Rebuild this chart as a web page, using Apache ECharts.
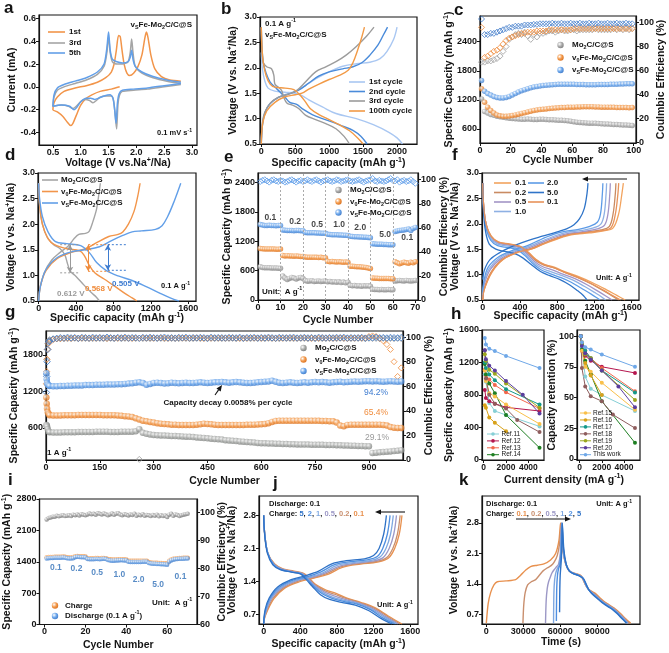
<!DOCTYPE html>
<html lang="en">
<head>
<meta charset="UTF-8">
<title>Electrochemical performance</title>
<script src="https://cdn.jsdelivr.net/npm/echarts@6.0.0/dist/echarts.min.js"></script>
<style>
  html, body { margin: 0; padding: 0; background: #fff; }
  #chart { width: 669px; height: 653px; }
</style>
</head>
<body>
<div id="chart"></div>
<script>
// ===== data =====
// a: CV curves [V, mA]
var cv1st = [[1.70,0.00],[1.55,-0.02],[1.35,-0.04],[1.2,-0.07],[1.1,-0.10],[1.0,-0.16],[0.92,-0.25],[0.86,-0.32],[0.82,-0.34],[0.76,-0.31],[0.68,-0.26],[0.58,-0.22],[0.5,-0.20],
  [0.52,-0.14],[0.58,-0.09],[0.7,-0.04],[0.9,-0.01],[1.1,0.01],[1.3,0.04],[1.45,0.08],[1.55,0.13],[1.6,0.2],[1.64,0.32],[1.68,0.45],[1.71,0.44],[1.74,0.33],[1.78,0.2],[1.83,0.12],[1.88,0.1],[1.95,0.12],[2.03,0.18],[2.1,0.28],[2.15,0.42],[2.18,0.48],[2.21,0.43],[2.26,0.28],[2.33,0.16],[2.45,0.09],[2.6,0.06],[2.8,0.05]];
var cv3rd = [[2.8,0.02],[2.5,0.0],[2.2,-0.02],[1.95,-0.03],[1.75,-0.04],[1.7,-0.07],[1.67,-0.15],[1.645,-0.37],[1.62,-0.25],[1.59,-0.12],[1.55,-0.08],[1.45,-0.08],[1.35,-0.09],[1.28,-0.12],[1.22,-0.14],[1.16,-0.12],[1.08,-0.11],[1.0,-0.13],[0.92,-0.17],[0.86,-0.19],[0.78,-0.17],[0.65,-0.16],[0.5,-0.17],
  [0.52,-0.09],[0.58,-0.03],[0.7,0.0],[0.9,0.03],[1.1,0.06],[1.3,0.11],[1.42,0.18],[1.47,0.3],[1.5,0.44],[1.53,0.3],[1.57,0.22],[1.65,0.2],[1.75,0.2],[1.85,0.22],[1.89,0.3],[1.915,0.42],[1.94,0.3],[1.98,0.18],[2.1,0.12],[2.3,0.08],[2.55,0.05],[2.8,0.03]];
var cv5th = [[2.8,0.03],[2.5,0.01],[2.2,-0.01],[1.95,-0.02],[1.75,-0.03],[1.69,-0.06],[1.66,-0.14],[1.635,-0.32],[1.61,-0.2],[1.58,-0.1],[1.53,-0.07],[1.42,-0.08],[1.32,-0.1],[1.25,-0.11],[1.18,-0.1],[1.1,-0.1],[1.0,-0.13],[0.93,-0.18],[0.88,-0.2],[0.8,-0.17],[0.65,-0.16],[0.5,-0.17],
  [0.52,-0.07],[0.58,-0.01],[0.7,0.02],[0.9,0.05],[1.1,0.08],[1.3,0.13],[1.42,0.2],[1.47,0.34],[1.5,0.48],[1.53,0.32],[1.57,0.24],[1.65,0.22],[1.75,0.21],[1.85,0.22],[1.89,0.26],[1.915,0.32],[1.94,0.24],[1.98,0.18],[2.1,0.13],[2.3,0.09],[2.55,0.06],[2.8,0.04]];

// b: GCD at 0.1 A/g [mAh/g, V]
var b1Dis = [[0,2.3],[15,2.0],[50,1.75],[100,1.6],[200,1.54],[350,1.52],[500,1.5],[600,1.45],[700,1.37],[900,1.23],[1100,1.1],[1400,1.0],[1650,0.88],[1880,0.73],[2000,0.62],[2080,0.5]];
var b1Chg = [[0,0.5],[10,0.8],[40,1.05],[100,1.25],[200,1.38],[350,1.47],[500,1.54],[650,1.65],[800,1.78],[1000,1.92],[1200,2.03],[1400,2.08],[1600,2.11],[1750,2.18],[1850,2.32],[1950,2.56],[2000,2.8]];
var b2Dis = [[0,2.8],[10,2.4],[30,2.1],[70,1.9],[130,1.72],[200,1.62],[280,1.52],[350,1.42],[420,1.32],[520,1.28],[620,1.18],[750,1.08],[900,1.0],[1050,0.93],[1200,0.85],[1350,0.77],[1470,0.65],[1560,0.5]];
var b2Chg = [[0,0.5],[15,0.85],[50,1.1],[120,1.28],[250,1.42],[400,1.48],[550,1.56],[700,1.7],[850,1.84],[1000,1.92],[1200,1.98],[1350,2.02],[1480,2.1],[1600,2.25],[1720,2.45],[1800,2.65],[1860,2.8]];
var b3Dis = [[0,2.8],[10,2.35],[30,2.1],[80,2.02],[150,1.98],[185,1.85],[200,1.68],[250,1.62],[300,1.55],[330,1.42],[380,1.3],[450,1.27],[550,1.2],[650,1.07],[800,0.98],[950,0.9],[1100,0.8],[1220,0.65],[1300,0.5]];
var b3Chg = [[0,0.5],[15,0.9],[50,1.12],[130,1.3],[250,1.42],[400,1.48],[520,1.55],[650,1.72],[800,1.92],[950,2.02],[1100,2.12],[1250,2.25],[1400,2.42],[1550,2.62],[1660,2.8]];
var b100Dis = [[0,2.8],[10,2.4],[30,2.1],[70,1.85],[130,1.68],[200,1.62],[350,1.6],[480,1.57],[560,1.48],[640,1.35],[720,1.2],[850,1.08],[1000,0.98],[1150,0.88],[1300,0.76],[1420,0.62],[1500,0.5]];
var b100Chg = [[0,0.5],[20,0.9],[80,1.15],[200,1.32],[350,1.43],[500,1.47],[600,1.5],[700,1.58],[850,1.68],[1000,1.77],[1150,1.85],[1280,1.95],[1350,2.1],[1420,2.35],[1480,2.6],[1520,2.8]];

// c: cycling at 0.1 A/g, cycles 1,3,5,...,99
var cCapMo = [1220,960,930,900,880,860,850,840,830,820, 815,810,805,800,800,805,800,795,795,800, 800,795,790,790,785,780,780,775,770,760, 750,740,735,730,725,720,720,715,710,705, 700,700,695,690,690,685,680,680,675,670];
var cCapV0 = [1430,1150,1050,980,930,890,870,860,860,865, 875,890,905,920,935,950,965,980,990,1000, 1005,1010,1020,1025,1030,1035,1040,1040,1045,1050, 1050,1055,1055,1060,1060,1060,1060,1055,1055,1050, 1050,1050,1045,1045,1040,1040,1040,1040,1035,1040];
var cCapVs = [1600,1380,1330,1300,1270,1250,1240,1240,1250,1270, 1300,1330,1360,1390,1410,1430,1450,1465,1475,1485, 1495,1500,1505,1510,1515,1520,1520,1520,1520,1520, 1520,1515,1515,1515,1510,1510,1510,1510,1515,1515, 1515,1515,1520,1520,1520,1525,1525,1530,1530,1530];
var cCeMo = [67,67,68,68,69,70,72,76,80,86, 88,90,91,90,92,89,86,90,88,91, 91,92,93,93,92,93,94,93,93,94, 94,93,94,94,94,94,94,95,94,94, 94,94,94,95,94,95,94,95,94,95];
var cCeV0 = [96,71,72,74,76,77,79,82,85,87, 88,89,90,91,91,92,92,92,93,93, 93,93,94,94,94,94,94,94,94,94, 95,95,95,95,95,95,95,95,95,95, 95,95,95,95,95,95,95,95,95,95];
var cCeVs = [103,90,90,91,91,92,93,94,95,96, 96,97,97,97,98,98,98,98.5,98.5,99, 99,99,99,99.5,99,99,99.5,99,99,99.5, 99,99,99.5,99,99,99.5,99,99,99.5,99, 99,99.5,99,99,99.5,99,99,99.5,99,99];

// d: GCD comparison [mAh/g, V]
var dMoDis = [[0,2.8],[10,2.35],[40,2.0],[90,1.75],[160,1.6],[230,1.52],[280,1.4],[310,1.22],[340,1.08],[400,0.98],[480,0.82],[560,0.67],[620,0.57],[650,0.5]];
var dMoChg = [[0,0.5],[15,0.75],[60,1.05],[140,1.3],[230,1.45],[320,1.58],[380,1.72],[430,1.8],[500,1.82],[540,1.86],[580,2.05],[620,2.3],[645,2.6],[660,2.8]];
var dV0Dis = [[0,2.8],[10,2.4],[40,2.0],[100,1.72],[170,1.6],[300,1.52],[440,1.48],[490,1.38],[540,1.2],[600,1.05],[700,0.93],[820,0.78],[930,0.64],[1000,0.56],[1050,0.5]];
var dV0Chg = [[0,0.5],[20,0.8],[80,1.1],[200,1.33],[350,1.45],[500,1.52],[620,1.64],[750,1.76],[850,1.8],[900,1.85],[960,2.0],[1020,2.25],[1060,2.55],[1085,2.8]];
var dVsDis = [[0,2.8],[10,2.5],[40,2.15],[100,1.85],[180,1.66],[300,1.62],[450,1.58],[540,1.45],[620,1.25],[720,1.1],[850,0.99],[1000,0.9],[1150,0.78],[1300,0.65],[1420,0.55],[1500,0.5]];
var dVsChg = [[0,0.5],[20,0.8],[80,1.12],[200,1.35],[350,1.46],[500,1.5],[650,1.56],[780,1.68],[900,1.78],[1000,1.85],[1100,1.87],[1250,1.9],[1320,1.97],[1380,2.15],[1450,2.45],[1520,2.8]];
var dGapX = [335, 530, 740];
var dGapTop = [1.6, 1.6, 1.6];
var dGapBot = [1.05, 1.08, 1.1];
var dDotFrom = [230, 530, 740];
var dDotTo = [430, 760, 940];

// e: rate capability, cycles 1..70
var eCapMo = [680,665,660,660,658,655,655,652,650,648, 490,450,420,440,460,450,430,450,460,440, 400,385,390,395,380,385,390,380,385,390, 370,380,365,375,360,370,355,365,350,360, 300,290,295,285,290,280,290,285,290,280, 220,215,215,210,215,210,210,215,210,210, 390,395,400,395,390,400,395,390,395,400];
var eCapV0 = [1050,1045,1040,1040,1040,1040,1040,1035,1035,1040, 910,900,905,900,900,895,900,895,890,890, 880,875,870,875,870,870,865,870,860,860, 790,780,785,780,775,780,775,770,775,770, 690,690,685,680,680,675,670,665,655,645, 450,445,445,440,440,440,440,440,435,435, 780,760,740,755,770,760,750,770,760,780];
var eCapVs = [1540,1530,1520,1520,1525,1520,1520,1515,1520,1520, 1430,1425,1420,1420,1420,1415,1420,1420,1415,1415, 1380,1375,1370,1370,1370,1365,1365,1360,1360,1360, 1340,1335,1330,1330,1330,1325,1325,1320,1320,1315, 1300,1295,1290,1290,1285,1285,1280,1280,1275,1270, 1150,1145,1140,1140,1140,1135,1135,1130,1130,1130, 1400,1410,1420,1425,1430,1440,1450,1420,1460,1480];
var eCeVs = [98.5,99.5,100,99,98,99.5,100,99,98.5,99.5, 99,98,98.5,99.5,100,99,98,99,99.5,98.5, 99,100,99,98.5,99.5,100,99,98,99,99.5, 100,99,98.5,99,100,99.5,98.5,99,99.5,100, 99,98.5,99,99.5,100,99,98,99,99.5,100, 101,99,98.5,99.5,99,98.5,99,100,101,99.5, 99,100,98,99,99.5,98.5,99,100,98.5,97];
var eRateLab = ['0.1','0.2','0.5','1.0','2.0','5.0','0.1'];
var eRateX = [5.5, 16.5, 26.3, 36.1, 45.5, 56.6, 66.4];
var eRateY = [1680, 1600, 1540, 1540, 1480, 1330, 1270];
var eSteps = [10, 20, 30, 40, 50, 60];

// f: GCD at different rates [mAh/g, V]
var fRates = ['0.1','0.2','0.5','1.0','2.0','5.0','0.1'];
var fC01 = [[0,0.5],[15,0.7],[100,1.05],[220,1.3],[380,1.44],[520,1.5],[650,1.6],[800,1.7],[950,1.78],[1150,1.82],[1300,1.86],[1400,1.92],[1460,2.2],[1495,2.6],[1510,2.8]];
var fC02 = [[0,0.5],[15,0.72],[90,1.05],[210,1.3],[370,1.45],[510,1.51],[640,1.61],[790,1.72],[940,1.8],[1120,1.84],[1270,1.88],[1360,1.95],[1400,2.2],[1424,2.6],[1430,2.8]];
var fC05 = [[0,0.55],[15,0.8],[80,1.1],[200,1.32],[360,1.46],[500,1.53],[630,1.63],[780,1.74],[920,1.81],[1090,1.85],[1230,1.9],[1310,1.98],[1345,2.2],[1365,2.6],[1370,2.8]];
var fC1 = [[0,0.6],[15,0.85],[70,1.12],[190,1.34],[350,1.47],[490,1.55],[620,1.65],[770,1.76],[900,1.83],[1060,1.87],[1190,1.92],[1270,2.0],[1305,2.2],[1325,2.6],[1330,2.8]];
var fC2 = [[0,0.65],[15,0.9],[60,1.15],[180,1.36],[340,1.49],[480,1.57],[610,1.68],[760,1.79],[880,1.85],[1030,1.89],[1150,1.95],[1230,2.03],[1265,2.2],[1285,2.6],[1290,2.8]];
var fC5 = [[0,0.9],[20,1.1],[80,1.3],[200,1.45],[350,1.58],[500,1.68],[650,1.76],[800,1.84],[900,1.9],[980,1.98],[1040,2.1],[1090,2.3],[1120,2.6],[1130,2.8]];
var fC01b = [[0,0.5],[15,0.7],[95,1.05],[215,1.3],[375,1.44],[515,1.5],[645,1.6],[795,1.71],[945,1.79],[1130,1.83],[1290,1.87],[1380,1.93],[1425,2.2],[1452,2.6],[1460,2.8]];
var fD01 = [[0,2.8],[8,2.4],[35,2.0],[90,1.76],[170,1.64],[290,1.6],[410,1.55],[490,1.44],[570,1.3],[660,1.2],[760,1.15],[880,1.06],[1030,0.96],[1180,0.84],[1330,0.7],[1440,0.59],[1530,0.5]];
var fD02 = [[0,2.8],[8,2.4],[35,2.0],[90,1.75],[170,1.63],[290,1.59],[400,1.54],[480,1.43],[560,1.29],[650,1.19],[750,1.14],[870,1.05],[1010,0.95],[1150,0.83],[1290,0.69],[1390,0.58],[1460,0.5]];
var fD05 = [[0,2.8],[8,2.4],[35,2.0],[85,1.74],[165,1.62],[280,1.58],[390,1.53],[470,1.42],[550,1.27],[640,1.16],[740,1.1],[860,1.01],[990,0.92],[1120,0.8],[1250,0.66],[1330,0.57],[1390,0.5]];
var fD1 = [[0,2.8],[8,2.35],[35,1.95],[85,1.72],[160,1.6],[270,1.56],[380,1.51],[460,1.4],[540,1.25],[630,1.13],[730,1.06],[850,0.98],[970,0.89],[1090,0.77],[1200,0.65],[1270,0.57],[1320,0.5]];
var fD2 = [[0,2.8],[8,2.3],[35,1.92],[85,1.68],[160,1.57],[270,1.53],[370,1.49],[450,1.38],[530,1.23],[620,1.1],[720,1.02],[840,0.94],[950,0.85],[1060,0.73],[1160,0.62],[1220,0.55],[1260,0.5]];
var fD5 = [[0,2.8],[8,2.25],[30,1.85],[70,1.6],[140,1.5],[250,1.45],[350,1.41],[430,1.33],[520,1.2],[620,1.06],[720,0.98],[830,0.9],[930,0.8],[1020,0.68],[1080,0.59],[1120,0.5]];
var fD01b = [[0,2.8],[8,2.4],[35,2.0],[90,1.75],[170,1.64],[290,1.6],[405,1.55],[485,1.44],[565,1.3],[655,1.2],[755,1.14],[875,1.05],[1015,0.95],[1160,0.83],[1300,0.69],[1400,0.58],[1480,0.5]];

// g: long cycling at 1 A/g; cycles 1,2,3,5,8 then every 10th
var gCapMo = [650,640,620,580,540, 530,525,525,525,530,530,530,530,535,535, 535,535,535,540,540,540,540,535,535,535, 540,540,540,540,545,580,520,505,495,485, 480,478,475,472,470,468,465,462,458,455, 450,445,440,435,430,425,420,415,410,400, 395,390,385,380,375,370,365,360,355,350, 348,346,344,342,340,338,336,334,332,330, 329,328,327,326,325,324,323,322,321,320, 318,316,314,312,310,308,306,304,302,300, 190,195,200,205,210,215,220,225,235,240];
var gCapV0 = [1100,1000,920,860,830, 810,805,805,805,810,810,810,810,815,815, 815,815,815,815,815,810,810,810,810,805, 800,795,790,780,760,740,720,710,700,690, 680,670,665,660,655,655,650,650,650,650, 650,655,660,670,665,660,655,650,650,650, 650,650,650,650,650,652,655,655,658,660, 665,680,700,715,720,720,720,720,720,720, 720,720,720,720,718,718,715,715,712,710, 690,640,630,650,655,655,655,655,655,655, 655,655,655,650,640,615,605,600,600,600];
var gCapVs = [1500,1400,1340,1310,1300, 1290,1285,1285,1290,1290,1295,1295,1300,1300,1300, 1305,1305,1305,1310,1310,1310,1315,1315,1315,1320, 1320,1325,1330,1335,1345,1350,1340,1310,1325,1340, 1345,1340,1330,1335,1345,1340,1335,1340,1345,1340, 1340,1345,1350,1345,1340,1345,1350,1350,1355,1350, 1345,1350,1355,1350,1345,1340,1340,1345,1350,1355, 1360,1365,1375,1360,1345,1340,1345,1350,1345,1340, 1345,1350,1345,1350,1355,1350,1355,1350,1345,1350, 1355,1360,1350,1355,1360,1365,1360,1365,1370,1370, 1365,1370,1365,1360,1365,1370,1365,1360,1365,1360];
var gCeMo = [70,82,90,95,97, 98,98.5,98.8,98.6,98.9,98.7,98.8,99,98.7,98.9, 98.8,99,98.7,98.9,98.8,99,98.7,98.9,98.8,99, 98.7,98.9,98.8,99,98.8,0.5,98.8,98.9,98.7,99, 98.8,98.9,98.7,99,98.8,98.9,98.7,99,98.8,98.9, 98.7,99,98.8,98.9,98.7,99,98.8,98.9,98.7,99, 98.8,98.9,98.7,99,98.8,98.9,98.7,99,98.8,98.9, 98.7,99,98.8,98.9,98.7,99,98.8,98.9,98.7,99, 98.8,98.9,98.7,99,98.8,98.9,98.7,99,98.8,98.9, 98.7,99,98.8,98.9,98.7,99,98.8,98.9,98.7,99, 98.8,98.9,98.7,99,98.8,98.9,98.7,99,98.8,98.9];
var gCeV0 = [62,72,82,90,95, 97,98,98.5,98.8,99,99.2,99,99.3,99.1,99.2, 99.4,99,99.3,99.1,99.4,99.2,99,99.3,99.2,99.1, 99.3,99.4,99.2,99,99.3,99.1,99.4,99.2,99.3,99.1, 99.3,99.4,99.2,99,99.3,99.1,99.4,99.2,99.3,99.1, 99.3,99.4,99.2,99,99.3,99.1,99.4,99.2,99.3,99.1, 99.3,99.4,99.2,99,99.3,99.1,99.4,99.2,99.3,99.1, 99.3,99.4,99.2,99,99.3,99.1,99.4,99.2,99.3,99.1, 99.3,99.4,99.2,99,99.3,99.1,99.4,99.2,99.3,99.1, 99.3,99.4,99.2,99,99.3,99.1,99.4,99.2,99.3,100.5, 101,100.5,99,97,94,90,80,68,75,85];
var gCeVs = [55,68,80,90,96, 97,98.5,99,99.5,99.2,99.8,99.4,99.6,99.1,99.7, 99.5,99.2,99.8,99.4,99.6,99.3,99.9,99.5,99.2,99.7, 99.4,99.8,99.3,99.6,99.5,99.1,99.7,99.4,99.8,99.5, 99.3,99.6,99.9,99.4,99.5,99.2,99.7,99.5,99.8,99.3, 99.6,99.4,99.7,99.5,99.2,99.8,99.4,99.6,99.5,99.3, 99.7,99.5,99.4,99.8,99.2,99.6,99.5,99.7,99.3,99.6, 99.4,99.8,99.5,99.2,99.7,99.5,99.4,99.6,99.8,99.3, 99.5,99.7,99.4,99.6,99.2,99.8,99.5,99.3,99.6,99.4, 99.7,99.5,99.8,99.3,99.6,99.4,99.5,99.7,99.2,99.6, 99.5,99.8,99.4,99.6,99.3,99.7,99.5,99.4,99.6,99.5];

// h: comparison with literature [current density mA/g, value]
var hRefs = ['Ref.11','Ref.12','Ref.13','Ref.14','Ref.15','Ref.16','Ref.17','Ref.18','Ref.19','Ref.20','This work'];
var hCap = [
  [[100,1050],[200,960],[500,700],[1000,600],[2000,550],[5000,410]],
  [[100,860],[200,760],[500,720],[1000,690],[2000,645],[5000,600]],
  [[100,1110],[200,1040],[500,990],[1000,920],[2000,830],[5000,630]],
  [[100,1180],[200,1050],[500,940],[1000,820],[2000,550],[5000,145]],
  [[100,1100],[200,970],[500,820],[1000,780],[2000,680],[5000,440]],
  [[100,670],[200,640],[500,520],[1000,455],[2000,350]],
  [[100,1200],[200,1130],[500,1050],[1000,980],[2000,870],[5000,680]],
  [[100,1350],[200,1000],[500,800],[1000,690],[2000,630],[3000,490],[5000,340]],
  [[100,1300],[200,1220],[500,1110],[1000,1060],[2000,940],[5000,640]],
  [[100,1350],[200,1240],[500,1160],[1000,1100],[2000,970],[3500,800],[5000,570]],
  [[100,1500],[200,1420],[500,1370],[1000,1340],[2000,1280],[5000,1130]]
];
var hRet = [
  [[100,100],[200,91],[500,67],[1000,57],[2000,52],[5000,39]],
  [[100,100],[200,88],[500,84],[1000,80],[2000,75],[5000,70]],
  [[100,100],[200,93],[500,88],[1000,82],[2000,74],[5000,55]],
  [[100,100],[200,89],[500,80],[1000,69],[2000,47],[5000,13]],
  [[100,100],[200,88],[500,75],[1000,71],[2000,62],[5000,40]],
  [[100,100],[200,95],[500,78],[1000,68],[2000,52]],
  [[100,100],[200,94],[500,88],[1000,82],[2000,72],[5000,54]],
  [[100,100],[200,74],[500,59],[1000,51],[2000,47],[3000,36],[5000,25]],
  [[100,100],[200,94],[500,85],[1000,82],[2000,72],[5000,48]],
  [[100,100],[200,92],[500,86],[1000,81],[2000,72],[3500,59],[5000,42]],
  [[100,100],[200,95],[500,91],[1000,89],[2000,85],[5000,75]]
];

// i: discharge at 0.1 A/g, charge at various rates, cycles 1..70
var iDis = [1470,1480,1485,1485,1490,1490,1490,1490,1495,1490, 1480,1470,1470,1480,1500,1510,1505,1500,1500,1495, 1460,1455,1455,1455,1460,1460,1455,1460,1465,1460, 1440,1430,1425,1425,1430,1430,1435,1435,1430,1430, 1400,1395,1395,1395,1395,1395,1395,1400,1400,1400, 1370,1360,1355,1355,1350,1350,1345,1345,1340,1335, 1400,1430,1445,1455,1460,1465,1465,1465,1470,1470];
var iChg = [1500,1505,1505,1505,1510,1510,1510,1510,1515,1510, 1500,1495,1495,1505,1520,1530,1525,1520,1520,1515, 1480,1480,1478,1478,1482,1482,1480,1482,1485,1480, 1460,1455,1450,1450,1452,1455,1458,1458,1455,1452, 1425,1420,1420,1420,1420,1420,1422,1425,1425,1422, 1395,1385,1380,1378,1375,1372,1370,1368,1365,1360, 1420,1450,1465,1475,1480,1485,1485,1488,1490,1490];
var iCe = [97.5,98,98.2,98.5,98.5,98.8,98.6,98.8,99,98.7, 98.8,99,98.7,99.2,99,99.3,98.9,99.4,99.2,99, 99.3,99.6,99.4,99.5,99.2,99.7,99.5,99.3,99.6,99.4, 99,99.3,99.6,99.2,99.5,99.7,99.3,99,99.4,99.2, 98.9,99.3,99.1,99.5,98.8,99.2,99,99.4,98.8,99.1, 99,98.7,99.1,98.8,99.2,98.6,99,98.7,98.9,98.4, 99.2,99.5,98.8,99.3,99.1,98.7,99,99.2,99.4,99.5];
var iRateLab = ['0.1','0.2','0.5','1.0','2.0','5.0','0.1'];
var iRateX = [5.5, 15.6, 25.7, 36.6, 46, 55.6, 66.5];
var iRateY = [1260, 1240, 1150, 1110, 1000, 880, 1070];

// j: discharge 0.1, charge at 5/2/1/0.5/0.2/0.1 [mAh/g, V]
var jC5 = [[0,0.5],[15,0.8],[60,1.05],[150,1.28],[300,1.44],[450,1.52],[600,1.62],[750,1.78],[900,1.84],[1100,1.88],[1200,1.95],[1260,2.1],[1310,2.4],[1340,2.8]];
var jC2 = [[0,0.5],[15,0.75],[70,1.05],[170,1.28],[320,1.43],[470,1.5],[620,1.6],[780,1.76],[950,1.82],[1130,1.86],[1240,1.93],[1300,2.1],[1350,2.4],[1380,2.8]];
var jC1 = [[0,0.5],[15,0.72],[80,1.05],[190,1.28],[340,1.42],[490,1.49],[640,1.58],[800,1.74],[980,1.8],[1160,1.84],[1270,1.92],[1335,2.1],[1385,2.4],[1415,2.8]];
var jC05 = [[0,0.5],[15,0.7],[90,1.05],[200,1.27],[360,1.42],[510,1.48],[660,1.57],[820,1.72],[1010,1.79],[1190,1.83],[1300,1.9],[1370,2.1],[1420,2.4],[1450,2.8]];
var jC02 = [[0,0.5],[15,0.68],[100,1.04],[220,1.27],[380,1.41],[530,1.48],[680,1.56],[840,1.71],[1040,1.78],[1220,1.82],[1340,1.9],[1410,2.1],[1460,2.4],[1490,2.8]];
var jC01 = [[0,0.5],[15,0.66],[110,1.03],[230,1.26],[400,1.4],[550,1.47],[700,1.55],[860,1.7],[1060,1.77],[1240,1.81],[1360,1.89],[1430,2.1],[1480,2.4],[1510,2.8]];
var jD5 = [[0,2.8],[10,2.4],[40,2.0],[100,1.75],[180,1.65],[300,1.6],[400,1.56],[460,1.45],[530,1.3],[620,1.12],[720,1.02],[850,0.96],[1000,0.9],[1150,0.78],[1280,0.62],[1400,0.5]];
var jD2 = [[0,2.8],[12,2.4],[45,2.0],[110,1.75],[190,1.65],[310,1.6],[410,1.56],[475,1.45],[545,1.3],[640,1.14],[740,1.05],[870,0.98],[1020,0.92],[1170,0.8],[1300,0.63],[1430,0.5]];
var jD1 = [[0,2.8],[12,2.4],[45,2.0],[110,1.76],[195,1.65],[315,1.6],[415,1.56],[480,1.45],[550,1.31],[650,1.16],[750,1.07],[880,1.0],[1030,0.93],[1180,0.81],[1320,0.64],[1450,0.5]];
var jD05 = [[0,2.8],[12,2.4],[45,2.0],[115,1.76],[200,1.66],[320,1.61],[420,1.57],[485,1.46],[555,1.32],[660,1.18],[760,1.1],[890,1.02],[1040,0.94],[1195,0.82],[1335,0.65],[1470,0.5]];
var jD02 = [[0,2.8],[12,2.4],[45,2.0],[115,1.77],[205,1.66],[325,1.61],[425,1.57],[490,1.47],[560,1.33],[670,1.2],[775,1.13],[900,1.04],[1050,0.95],[1210,0.83],[1350,0.66],[1490,0.5]];
var jD01 = [[0,2.8],[12,2.4],[45,2.0],[120,1.77],[210,1.67],[330,1.62],[430,1.58],[495,1.48],[565,1.34],[680,1.22],[790,1.15],[910,1.05],[1060,0.96],[1220,0.84],[1360,0.67],[1510,0.5]];

// k: voltage vs time [s, V], charge then discharge
var k01 = [[0,0.5],[1500,0.95],[3500,1.2],[6200,1.38],[8900,1.45],[16000,1.47],[23800,1.5],[27800,1.6],[32000,1.72],[35900,1.8],[41300,1.83],[46700,1.86],[52100,1.95],[56200,2.1],[58900,2.4],[60200,2.8],
  [61500,2.3],[63500,1.95],[66000,1.75],[68000,1.68],[72000,1.64],[76400,1.6],[78500,1.5],[80500,1.38],[83000,1.28],[86000,1.22],[88600,1.18],[92000,1.08],[95300,1.0],[99000,0.93],[103400,0.85],[108800,0.72],[113000,0.6],[117000,0.5]];
var k02 = [[29700,0.5],[30300,0.9],[31500,1.2],[33500,1.38],[36500,1.45],[40000,1.5],[43000,1.6],[46000,1.7],[49500,1.77],[52500,1.82],[55000,1.9],[57500,2.05],[59500,2.35],[60800,2.8],
  [62000,2.25],[64000,1.9],[66500,1.73],[69000,1.67],[73000,1.63],[77000,1.58],[79000,1.47],[81000,1.35],[83500,1.26],[86500,1.2],[89000,1.15],[92000,1.06],[95500,0.98],[99500,0.91],[103500,0.83],[108500,0.7],[112500,0.59],[116000,0.5]];
var k05 = [[48000,0.5],[48500,1.0],[49400,1.3],[50500,1.45],[51800,1.55],[53200,1.65],[54800,1.72],[56500,1.78],[58500,1.85],[60000,2.1],[61000,2.8],
  [62200,2.2],[64200,1.88],[66800,1.72],[69500,1.66],[73500,1.62],[77500,1.56],[79500,1.45],[81500,1.33],[84000,1.24],[87000,1.17],[90000,1.1],[93000,1.02],[96500,0.95],[100500,0.88],[104500,0.8],[109000,0.68],[112500,0.58],[115000,0.5]];
var k1 = [[54500,0.5],[54800,1.2],[55400,1.5],[56300,1.65],[57500,1.75],[59000,1.82],[60300,2.1],[61200,2.8],
  [62400,2.2],[64400,1.87],[67000,1.71],[70000,1.65],[74000,1.61],[78000,1.55],[80000,1.43],[82000,1.31],[84500,1.22],[87500,1.15],[90500,1.07],[93500,1.0],[97000,0.93],[101000,0.86],[105000,0.77],[109000,0.66],[112000,0.57],[114500,0.5]];
var k2 = [[56800,0.55],[57100,1.3],[57700,1.6],[58600,1.75],[59800,1.85],[60700,2.2],[61400,2.8],
  [62600,2.2],[64600,1.86],[67200,1.7],[70500,1.64],[74500,1.6],[78500,1.53],[80500,1.41],[82500,1.29],[85000,1.2],[88000,1.13],[91000,1.05],[94000,0.98],[97500,0.91],[101500,0.84],[105500,0.75],[109000,0.64],[111800,0.56],[114000,0.5]];
var k5 = [[59400,0.75],[59600,1.3],[59900,1.6],[60400,1.8],[60900,2.0],[61300,2.3],[61600,2.8],
  [62800,2.2],[64800,1.85],[67500,1.69],[71000,1.63],[75000,1.59],[79000,1.51],[81000,1.39],[83000,1.27],[85500,1.18],[88500,1.1],[91500,1.03],[94500,0.96],[98000,0.89],[102000,0.82],[106000,0.72],[109500,0.62],[112000,0.55],[113500,0.5]];

// ===== style =====
var FONT = '"Liberation Sans", Arial, Helvetica, sans-serif';
var INK = '#141414';
var OR = '#F2954A', GR = '#A5A5A5', BL = '#629FE8';
var RATE_COL = {r01: '#E8914F', r02: '#C98F6E', r05: '#9C98C6', r1: '#7FA8E0', r2: '#4F8FE0', r5: '#2F72C6'};
var HCOL = ['#86CFD6','#B5174F','#F2674C','#1E7F22','#F9C04A','#D8A21A','#14998A','#8E5D5D','#9BA61E','#5B3E9E','#6FA8E8'];

function richSet(fs, col) {
  var sm = Math.round(fs * 0.68 * 10) / 10, lh = Math.round(fs * 0.8);
  var r = {
    b: {fontSize: sm, fontFamily: FONT, fontWeight: 'bold', fill: col, color: col, verticalAlign: 'bottom', lineHeight: lh},
    p: {fontSize: sm, fontFamily: FONT, fontWeight: 'bold', fill: col, color: col, verticalAlign: 'top', lineHeight: lh}
  };
  for (var k in RATE_COL) r[k] = {fontSize: fs, fontFamily: FONT, fontWeight: 'bold', fill: RATE_COL[k], color: RATE_COL[k], lineHeight: Math.round(fs * 1.35)};
  return r;
}

function T(x, y, s, o) {
  o = o || {};
  var fs = o.fs || 8, c = o.c || INK, al = o.align || 'left';
  return {type: 'text', x: x, y: y, z: 100, silent: true, rotation: o.rot || 0,
    style: {text: s, fill: c, fontSize: fs, fontFamily: FONT, fontWeight: o.fw || 'bold',
      font: (o.fw || 'bold') + ' ' + fs + 'px ' + FONT, lineHeight: Math.round(fs * 1.35),
      align: al, textAlign: al, verticalAlign: 'middle', textVerticalAlign: 'middle', rich: richSet(fs, c)}};
}
function segLine(x1, y1, x2, y2, col, w) {
  return {type: 'line', z: 100, silent: true, shape: {x1: x1, y1: y1, x2: x2, y2: y2}, style: {stroke: col, lineWidth: w || 1.5}};
}
function arrow(x1, y1, x2, y2, col) {
  var a = Math.atan2(y2 - y1, x2 - x1), L = 6, W = 2.6;
  var bx = x2 - L * Math.cos(a), by = y2 - L * Math.sin(a);
  return [segLine(x1, y1, bx, by, col, 1.1),
    {type: 'polygon', z: 100, silent: true, shape: {points: [[x2, y2], [bx + W * Math.sin(a), by - W * Math.cos(a)], [bx - W * Math.sin(a), by + W * Math.cos(a)]]}, style: {fill: col}}];
}
function ball(col, dark) {
  return {type: 'radial', x: 0.35, y: 0.35, r: 0.75, colorStops: [{offset: 0, color: '#ffffff'}, {offset: 0.5, color: col}, {offset: 1, color: dark}]};
}
function legDot(x, y, col, dark, label, tx, fs) {
  return [{type: 'circle', z: 100, silent: true, shape: {cx: x, cy: y, r: 3.2},
      style: {fill: new echarts.graphic.RadialGradient(0.35, 0.35, 0.75, [{offset: 0, color: '#fff'}, {offset: 0.5, color: col}, {offset: 1, color: dark}])}},
    T(tx, y, label, {fs: fs || 8})];
}
function legLine(x1, x2, y, col, label, tx, fs) {
  return [segLine(x1, y, x2, y, col, 1.6), T(tx, y, label, {fs: fs || 8})];
}

// ===== grids & axes =====
var grids = [
  {left: 39, top: 15, width: 158, height: 130},
  {left: 260, top: 17, width: 157, height: 127},
  {left: 480, top: 16, width: 158, height: 127},
  {left: 38, top: 173, width: 158, height: 128},
  {left: 258, top: 173, width: 160, height: 127},
  {left: 482, top: 173, width: 157, height: 127},
  {left: 39, top: 331, width: 364, height: 129},
  {left: 482, top: 330, width: 62, height: 130},
  {left: 577, top: 330, width: 63, height: 130},
  {left: 39, top: 499, width: 158, height: 126},
  {left: 259, top: 496, width: 159, height: 128},
  {left: 482, top: 496, width: 158, height: 128}
].map(function (g) {
  g.show = true; g.borderColor = INK; g.borderWidth = 1.2; g.backgroundColor = 'transparent';
  g.containLabel = false; return g;
});

var nameRich = {
  p: {fontSize: 7, fontFamily: FONT, fontWeight: 'bold', color: INK, verticalAlign: 'top', lineHeight: 8},
  b: {fontSize: 7, fontFamily: FONT, fontWeight: 'bold', color: INK, verticalAlign: 'bottom', lineHeight: 8}
};
function axis(o) {
  var lab = {show: true, customValues: o.ticks, fontFamily: FONT, fontSize: o.lfs || 9, fontWeight: 'bold', color: INK, margin: 3, hideOverlap: false,
    formatter: function (v) { return o.fmt !== undefined ? Number(v).toFixed(o.fmt) : String(v); }};
  return {
    type: 'value', gridIndex: o.g, min: o.min, max: o.max, position: o.pos,
    name: o.name || '', nameLocation: 'middle', nameGap: o.gap || 12, nameRotate: o.rot, nameMoveOverlap: false,
    nameTextStyle: {fontFamily: FONT, fontSize: 10.5, fontWeight: 'bold', color: INK, lineHeight: 13, rich: nameRich},
    axisLine: {show: true, onZero: false, lineStyle: {color: INK, width: 1.2}},
    axisTick: {show: true, length: 3, customValues: o.ticks, lineStyle: {color: INK, width: 1}},
    axisLabel: lab,
    splitLine: {show: false}
  };
}
var CAPN = 'Specific capacity (mAh g{p|-1})';
var VOLN = 'Voltage (V vs. Na{p|+}/Na)';
var CEN = 'Coulmbic Efficiency (%)';
var xAxes = [
  axis({g: 0, min: 0.25, max: 3.09, ticks: [0.5, 1.0, 1.5, 2.0, 2.5, 3.0], fmt: 1, name: 'Voltage (V vs.Na{p|+}/Na)', gap: 12}),
  axis({g: 1, min: -19, max: 2294, ticks: [0, 500, 1000, 1500, 2000], name: CAPN, gap: 13}),
  axis({g: 2, min: 0, max: 101.5, ticks: [0, 20, 40, 60, 80, 100], name: 'Cycle Number', gap: 11}),
  axis({g: 3, min: -7, max: 1683, ticks: [0, 400, 800, 1200, 1600], name: CAPN, gap: 10.5}),
  axis({g: 4, min: 0, max: 71.2, ticks: [0, 10, 20, 30, 40, 50, 60, 70], name: 'Cycle Number', gap: 13.5}),
  axis({g: 5, min: -8, max: 1678, ticks: [0, 400, 800, 1200, 1600], name: CAPN, gap: 9.5}),
  axis({g: 6, min: 0, max: 995, ticks: [0, 150, 300, 450, 600, 750, 900], name: 'Cycle Number', gap: 14.5}),
  axis({g: 7, min: -150, max: 5400, ticks: [0, 2000, 4000], lfs: 8.5}),
  axis({g: 8, min: -245, max: 5455, ticks: [0, 2000, 4000], lfs: 8.5}),
  axis({g: 9, min: -2.5, max: 74.6, ticks: [0, 20, 40, 60], name: 'Cycle Number', gap: 14.5}),
  axis({g: 10, min: -51, max: 1685, ticks: [0, 400, 800, 1200, 1600], name: CAPN, gap: 14}),
  axis({g: 11, min: -3500, max: 124600, ticks: [0, 30000, 60000, 90000], name: 'Time (s)', gap: 12})
];
var yAxes = [
  axis({g: 0, min: -0.51, max: 0.63, ticks: [-0.4, -0.2, 0, 0.2, 0.4, 0.6], fmt: 1, name: 'Current (mA)', gap: 20.5, rot: 90}),
  axis({g: 1, min: 0.5, max: 3.0, ticks: [0.5, 1.0, 1.5, 2.0, 2.5, 3.0], fmt: 1, name: VOLN, gap: 20.5, rot: 90}),
  axis({g: 2, min: 310, max: 2930, ticks: [600, 1200, 1800, 2400], name: 'Specific Capacity (mAh g{p|-1})', gap: 24, rot: 90}),
  axis({g: 3, min: 0.5, max: 3.0, ticks: [0.5, 1.0, 1.5, 2.0, 2.5, 3.0], fmt: 1, name: VOLN, gap: 20, rot: 90}),
  axis({g: 4, min: 0, max: 2592, ticks: [0, 600, 1200, 1800, 2400], name: 'Specific Capacity (mAh g{p|-1})', gap: 24, rot: 90}),
  axis({g: 5, min: 0.5, max: 3.0, ticks: [0.5, 1.0, 1.5, 2.0, 2.5, 3.0], fmt: 1, name: VOLN, gap: 20, rot: 90}),
  axis({g: 6, min: 74, max: 2194, ticks: [600, 1200, 1800], name: 'Specific Capacity (mAh g{p|-1})', gap: 25, rot: 90}),
  axis({g: 7, min: -5, max: 1600, ticks: [0, 400, 800, 1200, 1600], name: 'Specific capacity (mAh g{p|-1})', gap: 26, rot: 90}),
  axis({g: 8, min: -1, max: 105, ticks: [0, 25, 50, 75, 100], name: 'Capacity retention (%)', gap: 18, rot: 90}),
  axis({g: 9, min: 0, max: 2800, ticks: [0, 700, 1400, 2100, 2800], name: 'Specific Capacity (mAh g{p|-1})', gap: 25.5, rot: 90}),
  axis({g: 10, min: 0.5, max: 3.21, ticks: [0.7, 1.4, 2.1, 2.8], fmt: 1, name: VOLN, gap: 20, rot: 90}),
  axis({g: 11, min: 0.48, max: 3.42, ticks: [0.7, 1.4, 2.1, 2.8], fmt: 1, name: VOLN, gap: 21, rot: 90}),
  axis({g: 2, pos: 'right', min: -0.5, max: 105.5, ticks: [0, 20, 40, 60, 80, 100], name: CEN, gap: 19, rot: 90}),
  axis({g: 4, pos: 'right', min: 0, max: 105.6, ticks: [0, 20, 40, 60, 80, 100], name: CEN, gap: 20, rot: 90}),
  axis({g: 6, pos: 'right', min: 0, max: 105, ticks: [0, 20, 40, 60, 80, 100], name: CEN, gap: 20, rot: 90}),
  axis({g: 9, pos: 'right', min: 60, max: 104.8, ticks: [60, 70, 80, 90, 100], name: CEN, gap: 19, rot: 90})
];

// ===== series =====
var series = [];
function L(xi, yi, data, col, w, sm) {
  series.push({type: 'line', xAxisIndex: xi, yAxisIndex: yi, data: data, symbol: 'none', silent: true,
    smooth: sm === undefined ? 0.35 : sm, lineStyle: {color: col, width: w || 1.4}, itemStyle: {color: col}});
}
function zip(xs, ys) { return ys.map(function (v, i) { return [xs[i], v]; }); }
function balls(xi, yi, xs, ys, col, dark, size) {
  series.push({type: 'scatter', xAxisIndex: xi, yAxisIndex: yi, data: zip(xs, ys), symbol: 'circle', symbolSize: size, silent: true,
    itemStyle: {color: ball(col, dark)}});
}
function diamonds(xi, yi, xs, ys, col, size) {
  series.push({type: 'scatter', xAxisIndex: xi, yAxisIndex: yi, data: zip(xs, ys), symbol: 'diamond', symbolSize: size, silent: true,
    itemStyle: {color: 'rgba(255,255,255,0)', borderColor: col, borderWidth: 1}});
}
function textSeries(xi, yi, xs, ys, labels, col) {
  series.push({type: 'scatter', xAxisIndex: xi, yAxisIndex: yi, silent: true, symbolSize: 1,
    itemStyle: {color: 'rgba(0,0,0,0)'},
    data: labels.map(function (s, i) { return [xs[i], ys[i], s]; }),
    label: {show: true, position: 'inside', formatter: function (p) { return p.value[2]; }, fontFamily: FONT, fontSize: 8.5, fontWeight: 'bold', color: col}});
}

// a
L(0, 0, cv1st, OR, 1.5, 0.25);
L(0, 0, cv3rd, GR, 1.5, 0.25);
L(0, 0, cv5th, BL, 1.5, 0.25);

// b
var B1 = '#A9C7F2', B2 = '#4A8BDA', B3 = '#9C9C9C', B100 = '#F29A46';
L(1, 1, b1Dis, B1); L(1, 1, b1Chg, B1);
L(1, 1, b2Dis, B2); L(1, 1, b2Chg, B2);
L(1, 1, b3Dis, B3); L(1, 1, b3Chg, B3);
L(1, 1, b100Dis, B100); L(1, 1, b100Chg, B100);

// c
var cX = cCapMo.map(function (v, i) { return 1 + 2 * i; });
diamonds(2, 12, cX, cCeMo, '#9C9C9C', 6);
diamonds(2, 12, cX, cCeV0, '#F08C3C', 6);
diamonds(2, 12, cX, cCeVs, '#3D79C9', 6);
balls(2, 2, cX, cCapMo, '#ABABAB', '#7C7C7C', 5.5);
balls(2, 2, cX, cCapV0, '#F39A4C', '#D66E1E', 5.5);
balls(2, 2, cX, cCapVs, '#6EA8EC', '#3D78C6', 5.5);

// d
L(3, 3, dMoDis, GR); L(3, 3, dMoChg, GR);
L(3, 3, dV0Dis, OR); L(3, 3, dV0Chg, OR);
L(3, 3, dVsDis, BL); L(3, 3, dVsChg, BL);
var dCol = ['#9A9A9A', '#F08C3C', '#3E7CD0'];
dGapX.forEach(function (x, i) {
  [dGapTop[i], dGapBot[i]].forEach(function (yv, j) {
    series.push({type: 'line', xAxisIndex: 3, yAxisIndex: 3, silent: true, symbol: 'none',
      data: [[dDotFrom[i], yv], [dDotTo[i], yv]], lineStyle: {color: dCol[i], width: 1, type: [2, 2]},
      markLine: j ? undefined : {silent: true, symbol: ['arrow', 'arrow'], symbolSize: [5, 6], label: {show: false},
        lineStyle: {color: dCol[i], width: 1, type: 'solid'},
        data: [[{coord: [x, dGapTop[i]]}, {coord: [x, dGapBot[i]]}]]}});
  });
});

// e
var eX = eCapMo.map(function (v, i) { return i + 1; });
series.push({type: 'line', xAxisIndex: 4, yAxisIndex: 4, data: [], silent: true,
  markLine: {silent: true, symbol: 'none', label: {show: false}, lineStyle: {color: '#AAAAAA', type: [2, 2], width: 1},
    data: eSteps.map(function (s) { return {xAxis: s}; })}});
diamonds(4, 13, eX, eCeVs, '#5B9BE8', 6);
balls(4, 4, eX, eCapMo, '#ABABAB', '#7C7C7C', 5.5);
balls(4, 4, eX, eCapV0, '#F39A4C', '#D66E1E', 5.5);
balls(4, 4, eX, eCapVs, '#6EA8EC', '#3D78C6', 5.5);
textSeries(4, 4, eRateX, eRateY, eRateLab, INK);

// f
var FCOL = ['#F2A35E', '#C98B62', '#A395C6', '#8EB0E3', '#5D9BE6', '#2F74C8', '#E8935A'];
var fCh = [fC01, fC02, fC05, fC1, fC2, fC5, fC01b];
var fDc = [fD01, fD02, fD05, fD1, fD2, fD5, fD01b];
fCh.forEach(function (d, i) { L(5, 5, d, FCOL[i], 1.3); L(5, 5, fDc[i], FCOL[i], 1.3); });

// g
var gX = [1, 2, 3, 5, 8];
for (var c = 10; c <= 1000; c += 10) gX.push(c);
diamonds(6, 14, gX, gCeMo, '#9C9C9C', 6);
diamonds(6, 14, gX, gCeV0, '#F08C3C', 6);
diamonds(6, 14, gX, gCeVs, '#3E7CCB', 6.5);
balls(6, 6, gX, gCapMo, '#A9ABA9', '#7A7D7A', 6.5);
balls(6, 6, gX, gCapV0, '#F39A4C', '#D66E1E', 6.5);
balls(6, 6, gX, gCapVs, '#6EA8EC', '#3D78C6', 6.5);

// h
hRefs.forEach(function (n, i) {
  series.push({type: 'line', xAxisIndex: 7, yAxisIndex: 7, data: hCap[i], symbol: 'circle', symbolSize: 4, silent: true,
    lineStyle: {color: HCOL[i], width: 1}, itemStyle: {color: HCOL[i]}});
  series.push({type: 'line', xAxisIndex: 8, yAxisIndex: 8, data: hRet[i], symbol: 'circle', symbolSize: 4, silent: true,
    lineStyle: {color: HCOL[i], width: 1}, itemStyle: {color: HCOL[i]}});
});

// i
var iX = iDis.map(function (v, i) { return i + 1; });
balls(9, 15, iX, iCe, '#A0A0A0', '#6E6E6E', 4.5);
balls(9, 9, iX, iChg, '#F39A4C', '#D66E1E', 4.5);
balls(9, 9, iX, iDis, '#6EA8EC', '#3D78C6', 4.5);
textSeries(9, 9, iRateX, iRateY, iRateLab, '#2F6FB8');

// j
var JCOL = [RATE_COL.r5, RATE_COL.r2, RATE_COL.r1, RATE_COL.r05, RATE_COL.r02, RATE_COL.r01];
var jCh = [jC5, jC2, jC1, jC05, jC02, jC01];
var jDc = [jD5, jD2, jD1, jD05, jD02, jD01];
for (var q = 5; q >= 0; q--) { L(10, 10, jCh[q], JCOL[q], 1.3); L(10, 10, jDc[q], JCOL[q], 1.3); }

// k
var kCurves = [k01, k02, k05, k1, k2, k5];
var KCOL = [RATE_COL.r01, RATE_COL.r02, RATE_COL.r05, RATE_COL.r1, RATE_COL.r2, RATE_COL.r5];
kCurves.forEach(function (d, i) { L(11, 11, d, KCOL[i], 1.4, 0.25); });

// ===== annotations =====
var V0 = 'v{b|0}Fe-Mo{b|2}C/C@S', VS = 'v{b|S}Fe-Mo{b|2}C/C@S', MO = 'Mo{b|2}C/C@S';
var g = [];
function add(x) { if (Array.isArray(x)) x.forEach(function (e) { g.push(e); }); else g.push(x); }
// panel letters
[['a', 4, 8], ['b', 221, 9], ['c', 454, 10], ['d', 5, 155], ['e', 224, 157], ['f', 452, 155],
 ['g', 5, 312], ['h', 451, 314], ['i', 8, 480], ['j', 273, 483], ['k', 459, 480]].forEach(function (p) {
  add(T(p[1], p[2], p[0], {fs: 17}));
});
// a
add(legLine(48, 65, 32, OR, '1st', 69)); add(legLine(48, 65, 43, GR, '3rd', 69)); add(legLine(48, 65, 53, BL, '5th', 69));
add(T(192, 25, VS, {align: 'right'}));
add(T(192, 133, '0.1 mV s{p|-1}', {align: 'right', fs: 7.5}));
// b
add(T(265, 24, '0.1 A g{p|-1}'));
add(T(265, 35, VS));
add(legLine(349, 365, 82, B1, '1st cycle', 369)); add(legLine(349, 365, 91.5, B2, '2nd cycle', 369));
add(legLine(349, 365, 101, B3, '3rd cycle', 369)); add(legLine(349, 365, 111, B100, '100th cycle', 369));
// c
add(legDot(560.5, 45, '#ABABAB', '#7C7C7C', MO, 572)); add(legDot(560.5, 57.5, '#F39A4C', '#D66E1E', V0, 572));
add(legDot(560.5, 70, '#6EA8EC', '#3D78C6', VS, 572));
// d
add(legLine(42, 58, 180, GR, MO, 61)); add(legLine(42, 58, 191.5, OR, V0, 61)); add(legLine(42, 58, 203, BL, VS, 61));
add(T(57, 294, '0.612 V', {c: '#9A9A9A'})); add(T(85, 289, '0.568 V', {c: '#F08C3C'}));
add(T(112, 284, '0.505 V', {c: '#3E7CD0'})); add(T(161, 286, '0.1 A g{p|-1}', {fs: 7.5}));
// e
add(legDot(338.5, 190, '#ABABAB', '#7C7C7C', MO, 350)); add(legDot(338.5, 201.5, '#F39A4C', '#D66E1E', V0, 350));
add(legDot(338.5, 212.5, '#6EA8EC', '#3D78C6', VS, 350));
add(T(262, 292, 'Unit:  A g{p|-1}'));
// f
[[0, 494, 511, 515, 183], [1, 494, 511, 515, 192.5], [2, 494, 511, 515, 202], [3, 494, 511, 515, 211.5],
 [4, 528, 544, 547, 183], [5, 528, 544, 547, 192.5], [6, 528, 544, 547, 202]].forEach(function (r) {
  add(legLine(r[1], r[2], r[4], FCOL[r[0]], fRates[r[0]], r[3]));
});
add(arrow(627, 179, 582, 179, INK));
add(T(596, 278, 'Unit: A g{p|-1}', {fs: 7.5}));
// g
add(legDot(303.5, 348, '#A9ABA9', '#7A7D7A', MO, 315)); add(legDot(303.5, 359.5, '#F39A4C', '#D66E1E', V0, 315));
add(legDot(303.5, 371, '#6EA8EC', '#3D78C6', VS, 315));
add(T(228, 403, 'Capacity decay 0.0058% per cycle', {align: 'center'}));
add(arrow(215, 395, 222, 385, INK));
add(T(388, 393, '94.2%', {align: 'right', c: '#3E7CD0', fw: 'normal', fs: 8.5}));
add(T(388, 413, '65.4%', {align: 'right', c: '#F08C3C', fw: 'normal', fs: 8.5}));
add(T(389, 438, '29.1%', {align: 'right', c: '#9A9A9A', fw: 'normal', fs: 8.5}));
add(T(47, 453, '1 A g{p|-1}'));
// h
add(T(564, 480, 'Current density (mA g{p|-1})', {align: 'center', fs: 10.5}));
[0, 1, 2, 3].forEach(function (i) {
  var y = 434 + i * 6.9;
  add(segLine(487, y, 499, y, HCOL[i], 1));
  add({type: 'circle', z: 100, silent: true, shape: {cx: 493, cy: y, r: 1.8}, style: {fill: HCOL[i]}});
  add(T(501.5, y, hRefs[i], {fs: 6.5, fw: 'normal'}));
});
[4, 5, 6, 7, 8, 9, 10].forEach(function (i, k) {
  var y = 413 + k * 6.95;
  add(segLine(580, y, 591, y, HCOL[i], 1));
  add({type: 'circle', z: 100, silent: true, shape: {cx: 585.5, cy: y, r: 1.8}, style: {fill: HCOL[i]}});
  add(T(593, y, hRefs[i], {fs: 6.5, fw: 'normal'}));
});
// i
add(legDot(55, 605.5, '#F39A4C', '#D66E1E', 'Charge', 65));
add(legDot(55, 616, '#6EA8EC', '#3D78C6', 'Discharge (0.1 A g{p|-1})', 65));
add(T(152, 603, 'Unit:  A g{p|-1}'));
// j
add(T(269, 504, 'Discharge: 0.1', {fs: 7.5}));
add(T(269, 514, 'Charge: {r5|5}, {r2|2}, {r1|1}, {r05|0.5}, {r02|0.2}, {r01|0.1}', {fs: 7.5}));
add(arrow(405, 512, 375, 512, INK));
add(T(377, 605, 'Unit: A g{p|-1}', {fs: 7.5}));
// k
add(T(486, 504, 'Discharge: 0.1', {fs: 7.5}));
add(T(486, 514, 'Charge: {r01|0.1}, {r02|0.2}, {r05|0.5}, {r1|1}, {r2|2}, {r5|5}', {fs: 7.5}));
add(T(632, 504, 'Unit: A g{p|-1}', {fs: 7.5, align: 'right'}));
add(arrow(516, 519, 571, 519, INK));

var chart = echarts.init(document.getElementById('chart'), null, {renderer: 'canvas'});
chart.setOption({
  animation: false,
  backgroundColor: '#ffffff',
  textStyle: {fontFamily: FONT},
  grid: grids,
  xAxis: xAxes,
  yAxis: yAxes,
  series: series,
  graphic: {elements: g}
});
</script>
</body>
</html>
